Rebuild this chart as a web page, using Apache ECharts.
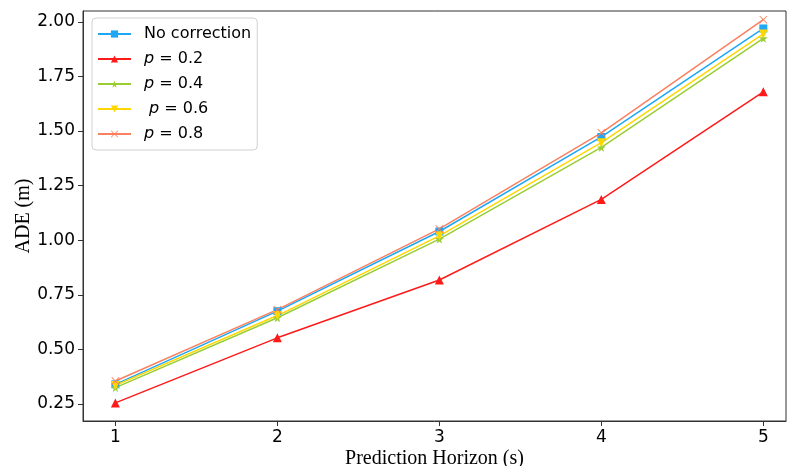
<!DOCTYPE html>
<html lang="en">
<head>
    <meta charset="UTF-8">
    <title>ADE vs Prediction Horizon</title>
    <style>
        body { margin: 0; background: #fff; }
        #chart { width: 787px; height: 466px; }
    </style>
    <script src="https://cdn.jsdelivr.net/npm/echarts@6/dist/echarts.min.js"></script>
</head>
<body>
<div id="chart"></div>
<script>
    // data
    const horizons = [1, 2, 3, 4, 5];
    const noCorrection = [0.340, 0.675, 1.040, 1.473, 1.970];
    const p02 = [0.255, 0.553, 0.818, 1.187, 1.680];
    const p04 = [0.325, 0.645, 1.005, 1.425, 1.925];
    const p06 = [0.335, 0.655, 1.020, 1.447, 1.945];
    const p08 = [0.355, 0.682, 1.052, 1.492, 2.010];
    const yTicks = [0.25, 0.50, 0.75, 1.00, 1.25, 1.50, 1.75, 2.00];

    const starPath = 'path://M50,0 L61,35 L98,35 L68,57 L79,91 L50,70 L21,91 L32,57 L2,35 L39,35 Z';
    const crossPath = 'path://M0,8 L8,0 L50,42 L92,0 L100,8 L58,50 L100,92 L92,100 L50,58 L8,100 L0,92 L42,50 Z';

    function pairs(vals) {
        return horizons.map((h, i) => [h, vals[i]]);
    }

    function makeSeries(name, vals, color, symbol, size, rotate) {
        return {
            name: name,
            type: 'line',
            data: pairs(vals),
            symbol: symbol,
            symbolSize: size,
            symbolRotate: rotate || 0,
            lineStyle: { color: color, width: 1.5 },
            itemStyle: { color: color },
            emphasis: { disabled: true }
        };
    }

    const chart = echarts.init(document.getElementById('chart'));
    chart.setOption({
        animation: false,
        grid: {
            left: 83, right: 1, top: 11, bottom: 45, outerBoundsMode: 'none',
            show: true, borderColor: '#333', borderWidth: 1
        },
        legend: {
            left: 92, top: 18,
            orient: 'vertical',
            itemWidth: 33, itemHeight: 9, itemGap: 9,
            padding: [8, 6, 8, 5],
            borderColor: '#d0d0d0', borderWidth: 1, borderRadius: 4,
            textStyle: {
                fontFamily: 'DejaVu Sans', fontSize: 16, color: '#000', padding: [0, 0, 0, 8],
                rich: { i: { fontStyle: 'italic', fontFamily: 'DejaVu Sans', fontSize: 16 } }
            },
            formatter: function (name) {
                if (name === 'No correction') return name;
                return name.replace('p', '{i|p}');
            },
            data: ['No correction', 'p = 0.2', 'p = 0.4', ' p = 0.6', 'p = 0.8']
        },
        xAxis: {
            type: 'value', min: 0.8, max: 5.14,
            name: 'Prediction Horizon (s)', nameLocation: 'middle', nameGap: 28, nameMoveOverlap: false,
            nameTextStyle: { fontFamily: 'Liberation Serif', fontSize: 20, color: '#000' },
            axisLine: { lineStyle: { color: '#333' } },
            axisTick: { show: true, inside: false, length: 5, customValues: horizons, lineStyle: { color: '#333' } },
            axisLabel: { customValues: horizons, fontFamily: 'DejaVu Sans', fontSize: 17, color: '#000', margin: 8 },
            splitLine: { show: false }
        },
        yAxis: {
            type: 'value', min: 0.172, max: 2.05,
            name: 'ADE (m)', nameLocation: 'middle', nameGap: 49, nameMoveOverlap: false,
            nameTextStyle: { fontFamily: 'Liberation Serif', fontSize: 20, color: '#000' },
            axisLine: { show: true, lineStyle: { color: '#333' } },
            axisTick: { show: true, length: 5, customValues: yTicks, lineStyle: { color: '#333' } },
            axisLabel: {
                customValues: yTicks, fontFamily: 'DejaVu Sans', fontSize: 17, color: '#000', margin: 8,
                formatter: v => v.toFixed(2)
            },
            splitLine: { show: false }
        },
        series: [
            makeSeries('No correction', noCorrection, '#1EA7F5', 'rect', 8),
            makeSeries('p = 0.2', p02, '#FF1A1A', 'triangle', 9),
            makeSeries('p = 0.4', p04, '#9ACD32', starPath, 9),
            makeSeries(' p = 0.6', p06, '#FFD700', 'triangle', 9, 180),
            makeSeries('p = 0.8', p08, '#FA8060', crossPath, 8)
        ]
    });
</script>
</body>
</html>
